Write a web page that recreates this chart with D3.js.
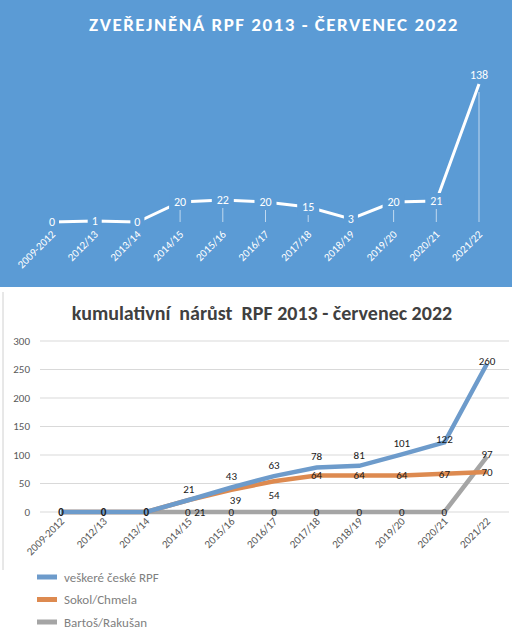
<!DOCTYPE html>
<html><head><meta charset="utf-8">
<script src="https://cdn.jsdelivr.net/npm/d3@7"></script>
<style>body{margin:0;background:#fff}text{font-family:Calibri,Carlito,"Liberation Sans",sans-serif;white-space:pre}</style>
</head><body><svg id="c" width="524" height="637"></svg>
<script>
var categories = ["2009-2012","2012/13","2013/14","2014/15","2015/16","2016/17","2017/18","2018/19","2019/20","2020/21","2021/22"];
var published = [0,1,0,20,22,20,15,3,20,21,138];
var allRpf = [0,0,0,21,43,63,78,81,101,122,260];
var sokol = [0,0,0,21,39,54,64,64,64,67,70];
var bartos = [0,0,0,0,0,0,0,0,0,0,97];
var yTicks = [0,50,100,150,200,250,300];

var svg = d3.select("#c");

// ---- top panel
var blue = "#5b9bd5";
svg.append("rect").attr("x",0).attr("y",0).attr("width",512).attr("height",287).attr("fill",blue);
svg.append("text").attr("x",274).attr("y",31).attr("text-anchor","middle")
	.attr("fill","#fff").attr("font-weight","bold").attr("font-size",19).attr("letter-spacing",1.5)
	.text("ZVEŘEJNĚNÁ RPF 2013 - ČERVENEC 2022");

var x1 = d3.scalePoint().domain(categories).range([52,479]);
var y1 = d3.scaleLinear().domain([0,138]).range([222,84]);

svg.selectAll(".drop").data(categories).enter().append("line")
	.attr("x1",d=>x1(d)).attr("x2",d=>x1(d))
	.attr("y1",(d,i)=>y1(published[i])+8).attr("y2",222)
	.attr("stroke","#dbe8f6").attr("stroke-width",0.8);

svg.append("path").datum(published)
	.attr("d", d3.line().x((d,i)=>x1(categories[i])).y(d=>y1(d)))
	.attr("fill","none").attr("stroke","#fff").attr("stroke-width",3);

var lab1 = svg.selectAll(".l1").data(published).enter().append("g")
	.attr("transform",(d,i)=>"translate("+x1(categories[i])+","+(i==10 ? y1(d)-9 : y1(d))+")");
lab1.append("rect").attr("x",d=>-String(d).length*4-3).attr("y",-8)
	.attr("width",d=>String(d).length*8+6).attr("height",16).attr("fill",blue);
lab1.append("text").attr("text-anchor","middle").attr("dy","0.35em").attr("fill","#fff")
	.attr("font-size",12).text(d=>d);

svg.selectAll(".t1").data(categories).enter().append("text")
	.attr("transform",d=>"translate("+(x1(d)+4)+",235) rotate(-45)")
	.attr("text-anchor","end").attr("fill","#fff").attr("font-size",11).text(d=>d);

// ---- bottom panel
svg.append("line").attr("x1",3).attr("x2",3).attr("y1",292).attr("y2",570).attr("stroke","#d0d0d0");
svg.append("text").attr("x",262).attr("y",320).attr("text-anchor","middle")
	.attr("fill","#404040").attr("font-weight","bold").attr("font-size",20)
	.text("kumulativní  nárůst  RPF 2013 - červenec 2022");

var x2 = d3.scalePoint().domain(categories).range([61,487]);
var y2 = d3.scaleLinear().domain([0,300]).range([512,341]);

svg.selectAll(".grid").data(yTicks).enter().append("line")
	.attr("x1",40).attr("x2",509).attr("y1",d=>y2(d)).attr("y2",d=>y2(d))
	.attr("stroke","#d9d9d9");
svg.selectAll(".yt").data(yTicks).enter().append("text")
	.attr("x",30).attr("y",d=>y2(d)).attr("dy","0.35em").attr("text-anchor","end")
	.attr("fill","#595959").attr("font-size",11).text(d=>d);
svg.selectAll(".t2").data(categories).enter().append("text")
	.attr("transform",d=>"translate("+(x2(d)+4)+",522) rotate(-45)")
	.attr("text-anchor","end").attr("fill","#595959").attr("font-size",11).text(d=>d);

var series = [
	{name:"veškeré české RPF", values:allRpf, color:"#6d9bcb"},
	{name:"Sokol/Chmela", values:sokol, color:"#dd8a50"},
	{name:"Bartoš/Rakušan", values:bartos, color:"#a5a5a5"}
];
var line2 = d3.line().x((d,i)=>x2(categories[i])).y(d=>y2(d));
series.slice().reverse().forEach(function(s){
	svg.append("path").datum(s.values).attr("d",line2)
		.attr("fill","none").attr("stroke",s.color).attr("stroke-width",4.5);
});

// data labels: [dx, dy] offsets from the point per series
function labelPos(k,i,d){
	var x = x2(categories[i]), y = y2(d);
	if(k==0){ if(i<3) return [x,y]; return [x, i>=9 ? y-3 : y-11]; }
	if(k==1){
		if(i==3) return [x+11, y2(0)];
		if(i==4) return [x+4, y+10];
		if(i==5) return [x, y+14];
		return [x,y];
	}
	if(i==3) return [x-1,y];
	if(i==10) return [x,y-3];
	return [x,y];
}
series.forEach(function(s,k){
	var items = s.values.map((d,i)=>({d:d,i:i})).filter(o=>!(k>0 && o.i<3));
	svg.selectAll(".dl"+k).data(items).enter().append("text")
		.attr("x",o=>labelPos(k,o.i,o.d)[0])
		.attr("y",o=>labelPos(k,o.i,o.d)[1])
		.attr("dy","0.35em").attr("text-anchor","middle").attr("fill","#1a1a1a")
		.attr("font-size",11).attr("font-family","Liberation Sans, Arial, sans-serif")
		.attr("font-weight",o=>k==0 && o.i<3 ? "bold" : "normal").text(o=>o.d);
});

// legend
var leg = svg.selectAll(".leg").data(series).enter().append("g")
	.attr("transform",(d,i)=>"translate(37,"+(577+i*22.5)+")");
leg.append("line").attr("x1",0).attr("x2",20).attr("stroke",d=>d.color).attr("stroke-width",5);
leg.append("text").attr("x",27).attr("dy","0.35em").attr("fill","#7f7f7f").attr("font-size",13)
	.attr("font-family","Liberation Sans, Arial, sans-serif").text(d=>d.name);
</script></body></html>
